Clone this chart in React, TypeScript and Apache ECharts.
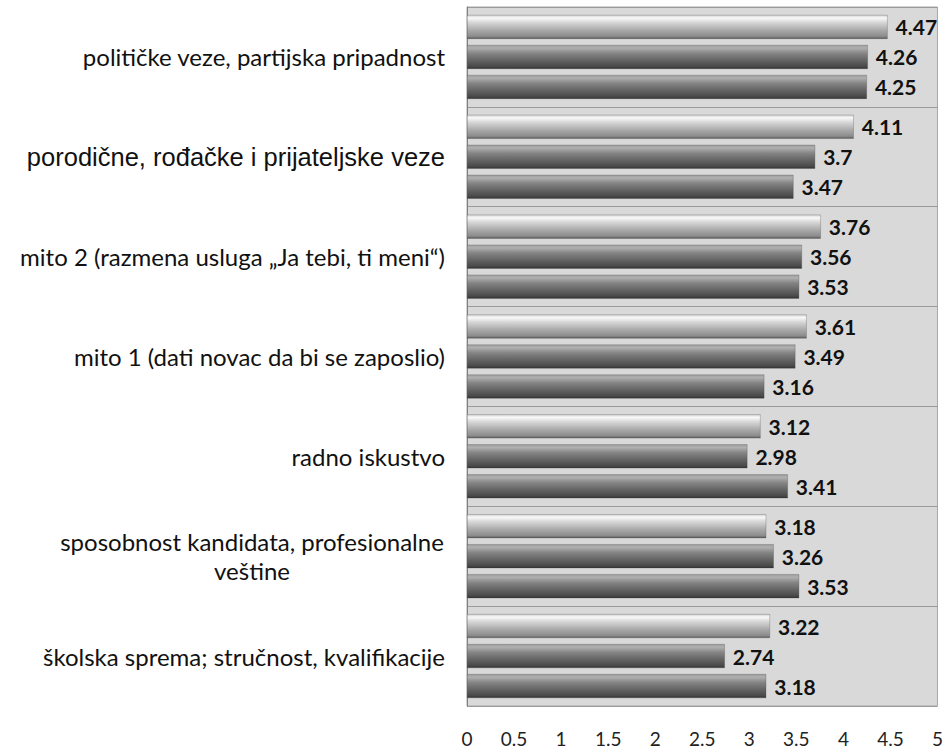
import React, { useEffect, useRef } from "react";
import * as echarts from "echarts";

const categories = [
  "političke veze, partijska pripadnost",
  "porodične, rođačke i prijateljske veze",
  "mito 2 (razmena usluga „Ja tebi, ti meni“)",
  "mito 1 (dati novac da bi se zaposlio)",
  "radno iskustvo",
  "sposobnost kandidata, profesionalne\nveštine",
  "školska sprema; stručnost, kvalifikacije",
];
const seriesTop = [4.47, 4.11, 3.76, 3.61, 3.12, 3.18, 3.22];
const seriesMiddle = [4.26, 3.7, 3.56, 3.49, 2.98, 3.26, 2.74];
const seriesBottom = [4.25, 3.47, 3.53, 3.16, 3.41, 3.53, 3.18];
const xTicks = [0, 0.5, 1, 1.5, 2, 2.5, 3, 3.5, 4, 4.5, 5];

const lightGrad = new echarts.graphic.LinearGradient(0, 0, 0, 1, [
  { offset: 0, color: "#d2d2d2" },
  { offset: 0.12, color: "#f9f9f9" },
  { offset: 0.3, color: "#d8d8d8" },
  { offset: 0.65, color: "#a8a8a8" },
  { offset: 0.9, color: "#8c8c8c" },
  { offset: 1, color: "#5a5a5a" },
]);
const darkGrad = new echarts.graphic.LinearGradient(0, 0, 0, 1, [
  { offset: 0, color: "#9c9c9c" },
  { offset: 0.12, color: "#b0b0b0" },
  { offset: 0.35, color: "#848484" },
  { offset: 0.7, color: "#5e5e5e" },
  { offset: 0.9, color: "#4a4a4a" },
  { offset: 1, color: "#333333" },
]);

export default function App() {
  const ref = useRef<HTMLDivElement>(null);
  useEffect(() => {
    const chart = echarts.init(ref.current!, undefined, { renderer: "svg" });
    const labelStyle = {
      show: true,
      position: "right" as const,
      distance: 8,
      fontFamily: "Lato",
      fontWeight: "bold" as const,
      fontSize: 21,
      color: "#111",
      formatter: (p: any) => String(p.value),
    };
    const mk = (name: string, data: number[], grad: any) => ({
      name,
      type: "bar",
      data,
      barWidth: 24,
      barGap: "25%",
      itemStyle: { color: grad, borderColor: "rgba(60,60,60,0.5)", borderWidth: 0.5 },
      label: labelStyle,
    });
    chart.setOption({
      animation: false,
      backgroundColor: "#ffffff",
      grid: {
        left: 467,
        right: 6,
        top: 7,
        bottom: 44,
        show: true,
        backgroundColor: "#d9d9d9",
        borderColor: "#a8a8a8",
        borderWidth: 1,
      },
      xAxis: {
        type: "value",
        min: 0,
        max: 5,
        interval: 0.5,
        axisLine: { show: false },
        axisTick: { show: false },
        splitLine: { show: false },
        axisLabel: {
          margin: 22,
          fontFamily: "Lato",
          fontSize: 19,
          lineHeight: 20,
          color: "#222",
          formatter: (v: number) => (xTicks.includes(v) ? String(v) : ""),
        },
      },
      yAxis: {
        type: "category",
        inverse: true,
        data: categories,
        axisLine: { show: true, lineStyle: { color: "#808080", width: 1 } },
        axisTick: { show: false },
        splitLine: { show: true, lineStyle: { color: "#9a9a9a", width: 1 } },
        axisLabel: {
          margin: 22,
          color: "#111",
          formatter: (v: string) => {
            if (v.includes("\n")) {
              return v
                .split("\n")
                .map((l) => `{c|${l}}`)
                .join("\n");
            }
            if (v.startsWith("porodične")) return `{b|${v}}`;
            return `{a|${v}}`;
          },
          rich: {
            a: { fontFamily: "Lato", fontSize: 24, color: "#111" },
            b: { fontFamily: "Liberation Sans", fontSize: 25.5, color: "#111" },
            c: {
              fontFamily: "Lato",
              fontSize: 24,
              color: "#111",
              width: 386,
              align: "center",
              lineHeight: 29,
            },
          },
        },
      },
      series: [
        mk("s1", seriesTop, lightGrad),
        mk("s2", seriesMiddle, darkGrad),
        mk("s3", seriesBottom, darkGrad),
      ],
    });
    return () => chart.dispose();
  }, []);
  return (
    <div
      ref={ref}
      style={{ position: "absolute", left: 0, top: 0, width: 946, height: 750 }}
    />
  );
}
